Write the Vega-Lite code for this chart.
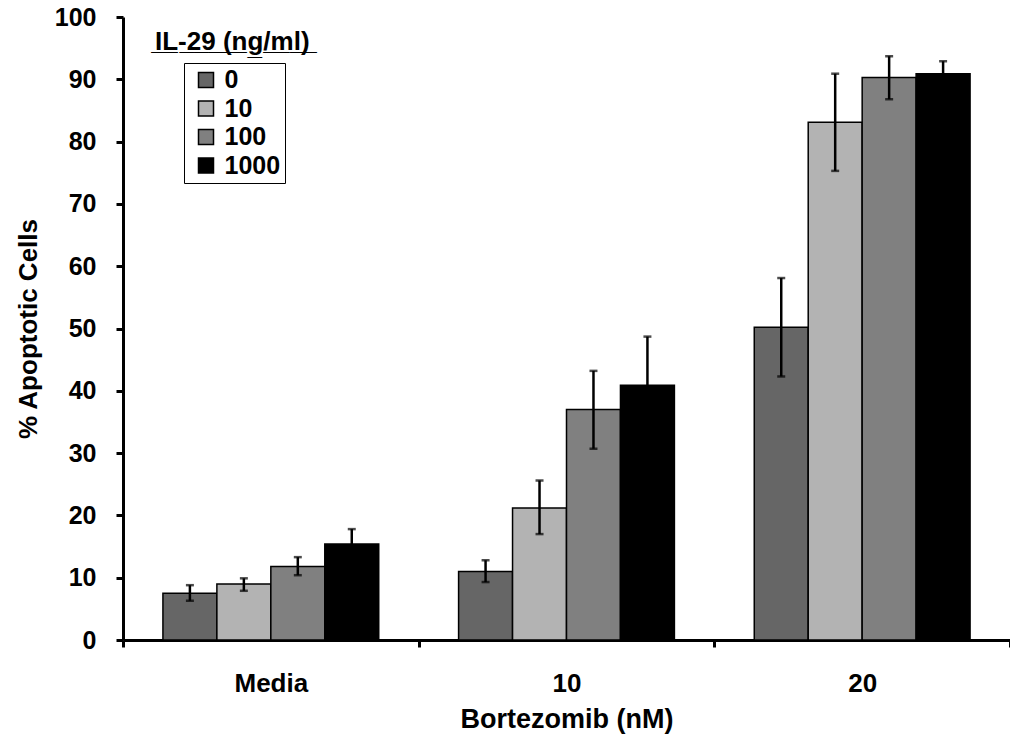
{
  "$schema": "https://vega.github.io/schema/vega-lite/v6.json",
  "autosize": {"type": "none"},
  "padding": {"left": 123, "top": 17, "right": 0, "bottom": 102},
  "width": 887,
  "height": 623,
  "background": "white",
  "title": {
    "text": "I̲L̲-̲2̲9̲ ̲(̲n̲g̲/̲m̲l̲)̲",
    "anchor": "start",
    "frame": "group",
    "orient": "top",
    "offset": 0,
    "dx": 32,
    "dy": 50,
    "font": "Liberation Sans",
    "fontSize": 26,
    "fontWeight": "bold",
    "color": "black"
  },
  "config": {
    "view": {"stroke": null},
    "font": "Liberation Sans",
    "axis": {
      "grid": false,
      "domainColor": "black",
      "domainWidth": 3,
      "tickColor": "black",
      "tickWidth": 3,
      "tickSize": 7,
      "labelFont": "Liberation Sans",
      "labelFontWeight": "bold",
      "labelFontSize": 25,
      "labelColor": "black",
      "titleFont": "Liberation Sans",
      "titleFontWeight": "bold",
      "titleFontSize": 26,
      "titleColor": "black"
    }
  },
  "data": {
    "values": [
      {"bortezomib": "Media", "il29": "0", "value": 7.5, "lo": 6.3, "hi": 8.8},
      {"bortezomib": "Media", "il29": "10", "value": 9.0, "lo": 7.9, "hi": 9.9},
      {"bortezomib": "Media", "il29": "100", "value": 11.8, "lo": 10.4, "hi": 13.3},
      {"bortezomib": "Media", "il29": "1000", "value": 15.4, "lo": 13.0, "hi": 17.8},
      {"bortezomib": "10", "il29": "0", "value": 11.0, "lo": 9.3, "hi": 12.8},
      {"bortezomib": "10", "il29": "10", "value": 21.2, "lo": 17.0, "hi": 25.6},
      {"bortezomib": "10", "il29": "100", "value": 37.0, "lo": 30.7, "hi": 43.2},
      {"bortezomib": "10", "il29": "1000", "value": 40.9, "lo": 33.2, "hi": 48.7},
      {"bortezomib": "20", "il29": "0", "value": 50.2, "lo": 42.3, "hi": 58.1},
      {"bortezomib": "20", "il29": "10", "value": 83.1, "lo": 75.3, "hi": 90.9},
      {"bortezomib": "20", "il29": "100", "value": 90.3, "lo": 86.8, "hi": 93.7},
      {"bortezomib": "20", "il29": "1000", "value": 90.9, "lo": 88.9, "hi": 92.9}
    ]
  },
  "encoding": {
    "x": {
      "field": "bortezomib",
      "type": "nominal",
      "sort": ["Media", "10", "20"],
      "scale": {"paddingInner": 0, "paddingOuter": 0},
      "axis": {
        "title": "Bortezomib (nM)",
        "labelAngle": 0,
        "labelFontSize": 26,
        "titleFontSize": 27,
        "tickBand": "extent",
        "labelPadding": 23,
        "titlePadding": 10
      }
    },
    "xOffset": {
      "field": "il29",
      "type": "nominal",
      "sort": ["0", "10", "100", "1000"],
      "scale": {"paddingInner": 0, "paddingOuter": 0.74}
    }
  },
  "layer": [
    {
      "mark": {"type": "bar", "stroke": "black", "strokeWidth": 1.5},
      "encoding": {
        "y": {
          "field": "value",
          "type": "quantitative",
          "scale": {"domain": [0, 100], "nice": false},
          "axis": {
            "title": "% Apoptotic Cells",
            "values": [0, 10, 20, 30, 40, 50, 60, 70, 80, 90, 100],
            "labelPadding": 20,
            "titlePadding": 13
          }
        },
        "fill": {
          "field": "il29",
          "type": "nominal",
          "sort": ["0", "10", "100", "1000"],
          "scale": {
            "domain": ["0", "10", "100", "1000"],
            "range": ["#666666", "#b3b3b3", "#808080", "#000000"]
          },
          "legend": {
            "title": null,
            "orient": "none",
            "legendX": 61,
            "legendY": 46,
            "symbolType": "square",
            "symbolSize": 225,
            "symbolStrokeColor": "black",
            "symbolStrokeWidth": 1.5,
            "symbolOpacity": 1,
            "symbolOffset": 5,
            "labelFont": "Liberation Sans",
            "labelFontSize": 25,
            "labelFontWeight": "bold",
            "labelColor": "black",
            "labelOffset": 6,
            "rowPadding": 2.5,
            "padding": 4.5,
            "strokeColor": "black",
            "fillColor": "white"
          }
        }
      }
    },
    {
      "mark": {"type": "rule", "color": "black", "strokeWidth": 2.5},
      "encoding": {
        "y": {"field": "lo", "type": "quantitative"},
        "y2": {"field": "hi"}
      }
    },
    {
      "mark": {"type": "tick", "color": "black", "thickness": 2.5, "size": 8, "orient": "horizontal"},
      "encoding": {
        "y": {"field": "lo", "type": "quantitative"}
      }
    },
    {
      "mark": {"type": "tick", "color": "black", "thickness": 2.5, "size": 8, "orient": "horizontal"},
      "encoding": {
        "y": {"field": "hi", "type": "quantitative"}
      }
    }
  ]
}
